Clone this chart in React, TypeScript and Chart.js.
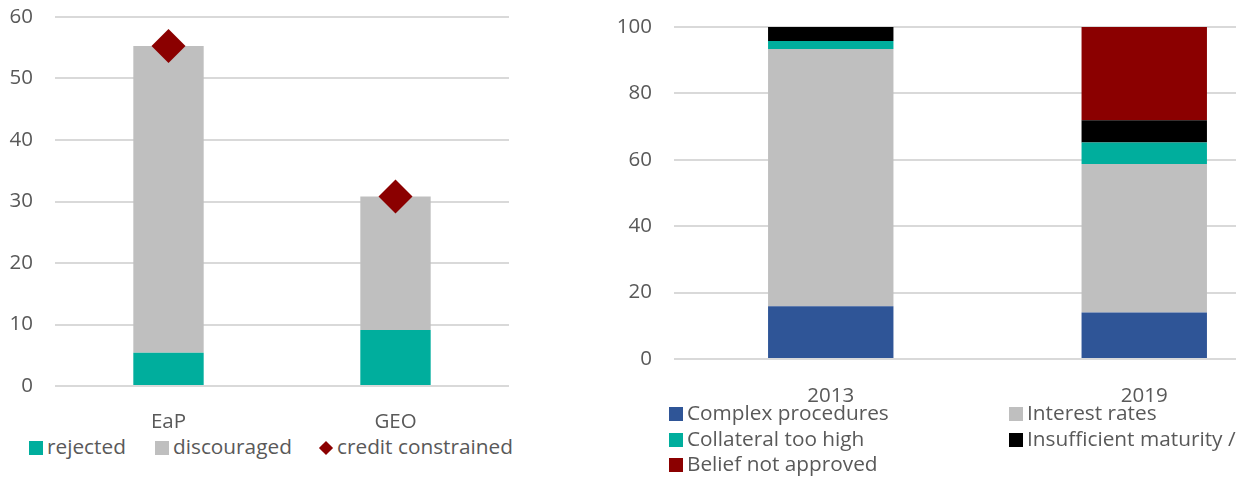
import React, { useEffect, useRef } from 'react';
import { Chart, registerables } from 'chart.js';

Chart.register(...registerables);

// ---- Left panel data ----
const leftCategories = ['EaP', 'GEO'];
const rejected = [5.4, 9.1];
const discouraged = [49.9, 21.7];
const creditConstrained = [55.3, 30.8];
const leftYMax = 60;
const leftYStep = 10;

// ---- Right panel data ----
const rightCategories = ['2013', '2019'];
const complexProcedures = [15.9, 14.0];
const interestRates = [77.5, 44.7];
const collateralTooHigh = [2.4, 6.5];
const insufficientMaturity = [4.2, 6.7];
const beliefNotApproved = [0, 28.1];
const rightYMax = 100;
const rightYStep = 20;

const FONT = '"Open Sans"';
const FSIZE = 20.5;
const LSIZE = 20.8;
const TXT = '#595959';
const GRID = '#d9d9d9';
const TEAL = '#00ae9d';
const GRAY = '#bfbfbf';
const DARKRED = '#8b0000';
const BLUE = '#2f5597';
const BLACK = '#000000';

const yFit = (w: number) => (s: any) => {
  s.width = w;
  s.paddingTop = 0;
  s.paddingBottom = 0;
};

function LeftChart() {
  const ref = useRef<HTMLCanvasElement>(null);
  useEffect(() => {
    const chart = new Chart(ref.current!, {
      type: 'bar',
      data: {
        labels: leftCategories,
        datasets: [
          {
            type: 'line',
            label: 'credit constrained',
            data: creditConstrained,
            showLine: false,
            pointStyle: 'rectRot',
            pointRadius: 17,
            pointHoverRadius: 17,
            pointBorderWidth: 0,
            backgroundColor: DARKRED,
            borderColor: DARKRED,
            stack: 'cc',
            order: 0,
          } as any,
          { label: 'rejected', data: rejected, backgroundColor: TEAL, order: 1, stack: 'bars' },
          { label: 'discouraged', data: discouraged, backgroundColor: GRAY, order: 1, stack: 'bars' },
        ],
      },
      options: {
        animation: false,
        responsive: false,
        layout: { padding: { top: 14, left: 0, right: 31, bottom: 0 } },
        plugins: { legend: { display: false }, tooltip: { enabled: false } },
        datasets: { bar: { categoryPercentage: 1, barPercentage: 0.31 } },
        scales: {
          x: {
            stacked: true,
            grid: { display: false },
            border: { display: false },
            ticks: { color: TXT, font: { family: FONT, size: FSIZE }, padding: 16 },
            afterFit: (s: any) => { s.height = 45; },
          },
          y: {
            stacked: true,
            min: 0,
            max: leftYMax,
            ticks: { stepSize: leftYStep, color: TXT, font: { family: FONT, size: FSIZE }, padding: 22 },
            grid: { color: GRID, lineWidth: 2, drawTicks: false },
            border: { display: false },
            afterFit: yFit(55),
          },
        },
      },
    });
    return () => chart.destroy();
  }, []);
  return (
    <canvas ref={ref} width={540} height={431}
      style={{ position: 'absolute', left: 0, top: 0, width: 540, height: 431 }} />
  );
}

function RightChart() {
  const ref = useRef<HTMLCanvasElement>(null);
  useEffect(() => {
    const chart = new Chart(ref.current!, {
      type: 'bar',
      data: {
        labels: rightCategories,
        datasets: [
          { label: 'Complex procedures', data: complexProcedures, backgroundColor: BLUE },
          { label: 'Interest rates', data: interestRates, backgroundColor: GRAY },
          { label: 'Collateral too high', data: collateralTooHigh, backgroundColor: TEAL },
          { label: 'Insufficient maturity /', data: insufficientMaturity, backgroundColor: BLACK },
          { label: 'Belief not approved', data: beliefNotApproved, backgroundColor: DARKRED },
        ],
      },
      options: {
        animation: false,
        responsive: false,
        layout: { padding: { top: 27, left: 0, right: 19, bottom: 0 } },
        plugins: { legend: { display: false }, tooltip: { enabled: false } },
        datasets: { bar: { categoryPercentage: 1, barPercentage: 0.4 } },
        scales: {
          x: {
            stacked: true,
            grid: { display: false },
            border: { display: false },
            ticks: { color: TXT, font: { family: FONT, size: FSIZE }, padding: 17 },
            afterFit: (s: any) => { s.height = 46; },
          },
          y: {
            stacked: true,
            min: 0,
            max: rightYMax,
            ticks: { stepSize: rightYStep, color: TXT, font: { family: FONT, size: FSIZE }, padding: 22 },
            grid: { color: GRID, lineWidth: 2, drawTicks: false },
            border: { display: false },
            afterFit: yFit(74),
          },
        },
      },
    });
    return () => chart.destroy();
  }, []);
  return (
    <canvas ref={ref} width={720} height={405}
      style={{ position: 'absolute', left: 600, top: 0, width: 720, height: 405 }} />
  );
}

const textStyle: React.CSSProperties = {
  position: 'absolute',
  fontFamily: FONT,
  fontSize: LSIZE,
  color: TXT,
  lineHeight: '24px',
  whiteSpace: 'nowrap',
};

function LegendBox({ x, y, color }: { x: number; y: number; color: string }) {
  return <div style={{ position: 'absolute', left: x, top: y - 7, width: 14, height: 14, background: color }} />;
}

function LegendDiamond({ x, y, color }: { x: number; y: number; color: string }) {
  return (
    <div style={{
      position: 'absolute', left: x - 5, top: y - 5, width: 10, height: 10,
      background: color, transform: 'rotate(45deg)',
    }} />
  );
}

function LegendText({ x, y, text }: { x: number; y: number; text: string }) {
  return <div style={{ ...textStyle, left: x, top: y - 12 }}>{text}</div>;
}

export default function App() {
  return (
    <div style={{ position: 'fixed', left: 0, top: 0, width: 1236, height: 477, overflow: 'hidden', background: '#fff' }}>
      <LeftChart />
      <RightChart />
      {/* left legend */}
      <LegendBox x={29} y={448} color={TEAL} />
      <LegendText x={47} y={446} text="rejected" />
      <LegendBox x={155} y={448} color={GRAY} />
      <LegendText x={173} y={446} text="discouraged" />
      <LegendDiamond x={326} y={448} color={DARKRED} />
      <LegendText x={337} y={446} text="credit constrained" />
      {/* right legend */}
      <LegendBox x={669} y={414} color={BLUE} />
      <LegendText x={687} y={412} text="Complex procedures" />
      <LegendBox x={1009} y={414} color={GRAY} />
      <LegendText x={1027} y={412} text="Interest rates" />
      <LegendBox x={669} y={440} color={TEAL} />
      <LegendText x={687} y={438} text="Collateral too high" />
      <LegendBox x={1009} y={440} color={BLACK} />
      <LegendText x={1027} y={438} text="Insufficient maturity /" />
      <LegendBox x={669} y={465} color={DARKRED} />
      <LegendText x={687} y={463} text="Belief not approved" />
    </div>
  );
}
